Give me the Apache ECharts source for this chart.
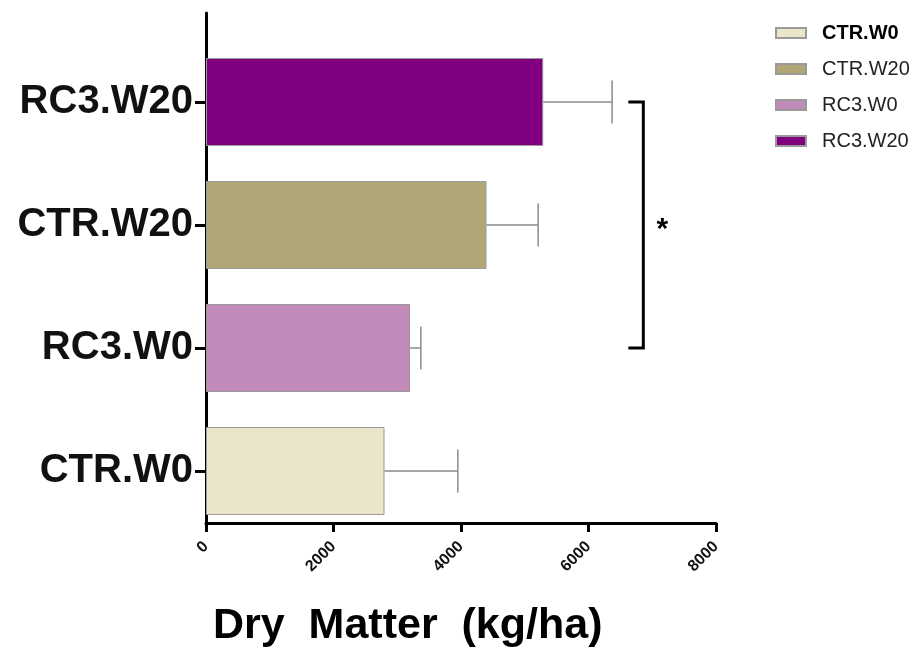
<!DOCTYPE html>
<html>
<head>
<meta charset="utf-8">
<script src="https://cdn.jsdelivr.net/npm/echarts@6/dist/echarts.min.js"></script>
<style>html,body{margin:0;padding:0;background:#fff;}#main{width:920px;height:650px;}</style>
</head>
<body>
<div id="main"></div>
<script>
// Data
var categories = ['CTR.W0', 'RC3.W0', 'CTR.W20', 'RC3.W20'];
var means = [2800, 3200, 4400, 5290];
var errors = [1150, 170, 810, 1080];
var xTicks = [0, 2000, 4000, 6000, 8000];
var sigFrom = 1, sigTo = 3, sigLabel = '*';
var colors = ['#EBE6C9', '#B1A776', '#C18AB9', '#800080'];
var legendOrder = ['CTR.W0', 'CTR.W20', 'RC3.W0', 'RC3.W20'];

var chart = echarts.init(document.getElementById('main'));
var FONT = 'Liberation Sans, Arial, sans-serif';

var barSeries = categories.map(function (c, i) {
  var d = categories.map(function (cc, j) { return j === i ? means[j] : '-'; });
  var colorIdx = legendOrder.indexOf(c);
  return {
    name: c, type: 'bar', stack: 'bars', xAxisIndex: 0, yAxisIndex: 0,
    barWidth: 88, data: d,
    itemStyle: { color: colors[colorIdx], borderColor: '#9a9a9a', borderWidth: 1 },
    emphasis: { disabled: true }
  };
});

var errData = categories.map(function (c, i) { return [means[i], i, errors[i]]; });

var option = {
  animation: false,
  title: {
    text: 'Dry  Matter  (kg/ha)', left: 208, top: 600,
    textStyle: { fontFamily: FONT, fontWeight: 'bold', fontSize: 43, color: '#000' }
  },
  legend: {
    orient: 'vertical', left: 770, top: 18, itemWidth: 30, itemHeight: 10, itemGap: 16,
    icon: 'rect', selectedMode: false,
    data: legendOrder,
    formatter: function (n) { return n === 'CTR.W0' ? '{b|' + n + '}' : '{n|' + n + '}'; },
    textStyle: { fontFamily: FONT, fontSize: 20, color: '#222', lineHeight: 20,
      rich: {
        b: { fontFamily: FONT, fontSize: 20, fontWeight: 'bold', color: '#000', lineHeight: 20, padding: [0, 0, 0, 11] },
        n: { fontFamily: FONT, fontSize: 20, color: '#222', lineHeight: 20, padding: [0, 0, 0, 11] }
      } }
  },
  grid: [
    { left: 206, right: 204, top: 40.5, bottom: 117.5 },
    { left: 206, right: 204, top: 13, bottom: 127 }
  ],
  xAxis: [
    { type: 'value', gridIndex: 0, min: 0, max: 8000, show: false },
    { type: 'value', gridIndex: 1, min: xTicks[0], max: xTicks[xTicks.length - 1], interval: 2000,
      axisLine: { show: true, lineStyle: { color: '#000', width: 3 } },
      axisTick: { show: true, length: 9, lineStyle: { color: '#000', width: 3 } },
      axisLabel: { rotate: 45, margin: 21, fontFamily: FONT, fontWeight: 'bold', fontSize: 16, color: '#111',
        formatter: function (v) { return String(v); } },
      splitLine: { show: false } }
  ],
  yAxis: [
    { type: 'category', gridIndex: 0, data: categories,
      axisLine: { show: false },
      axisTick: { show: true, alignWithLabel: true, length: 11, lineStyle: { color: '#000', width: 3 } },
      axisLabel: { margin: 13, fontFamily: FONT, fontWeight: 'bold', fontSize: 40, color: '#111' } },
    { type: 'value', gridIndex: 1, min: 0, max: 1,
      axisLine: { show: true, onZero: false, lineStyle: { color: '#000', width: 3 } },
      axisTick: { show: false }, axisLabel: { show: false }, splitLine: { show: false } }
  ],
  series: barSeries.concat([
    {
      type: 'custom', xAxisIndex: 0, yAxisIndex: 0, data: errData, z: 1,
      renderItem: function (params, api) {
        var m = api.value(0), cat = api.value(1), e = api.value(2);
        var p0 = api.coord([m, cat]);
        var p1 = api.coord([m + e, cat]);
        var half = api.size([0, 1])[1] * 0.175;
        var st = { stroke: '#8a8a8a', lineWidth: 1.5 };
        return { type: 'group', children: [
          { type: 'line', shape: { x1: p0[0], y1: p0[1], x2: p1[0], y2: p1[1] }, style: st },
          { type: 'line', shape: { x1: p1[0], y1: p1[1] - half, x2: p1[0], y2: p1[1] + half }, style: st }
        ] };
      }
    },
    {
      type: 'custom', xAxisIndex: 0, yAxisIndex: 0, data: [[6625, 6860, sigFrom, sigTo, 7160]],
      renderItem: function (params, api) {
        var a = api.coord([api.value(0), api.value(3)]);
        var b = api.coord([api.value(1), api.value(3)]);
        var c = api.coord([api.value(1), api.value(2)]);
        var d = api.coord([api.value(0), api.value(2)]);
        var mid = api.coord([api.value(4), (api.value(2) + api.value(3)) / 2]);
        return { type: 'group', children: [
          { type: 'polyline', shape: { points: [a, b, c, d] }, style: { stroke: '#000', lineWidth: 3, fill: null } },
          { type: 'text', x: mid[0], y: mid[1] + 5, style: { text: sigLabel, fontFamily: FONT, fontWeight: 'bold', fontSize: 30, fill: '#000', align: 'center', verticalAlign: 'middle' } }
        ] };
      }
    }
  ])
};
chart.setOption(option);
</script>
</body>
</html>
